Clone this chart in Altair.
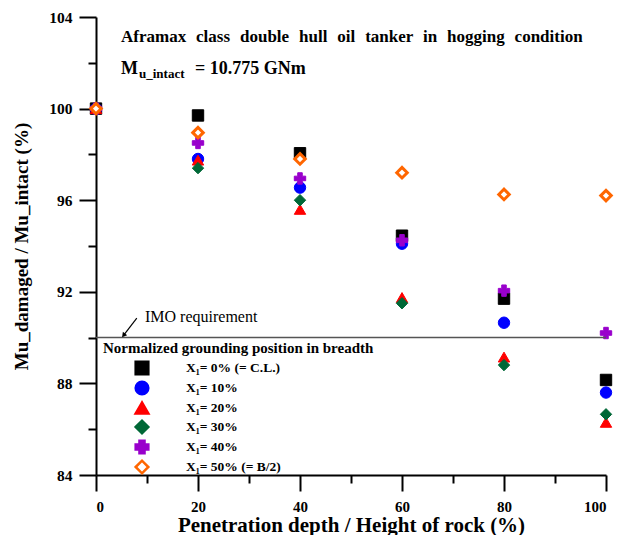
import altair as alt
import pandas as pd

depth = [0, 20, 40, 60, 80, 100]
series_labels = ["X₁= 0% (= C.L.)", "X₁= 10%", "X₁= 20%", "X₁= 30%", "X₁= 40%", "X₁= 50% (= B/2)"]
s0 = [100, 99.7, 98.05, 94.45, 91.7, 88.15]
s10 = [100, 97.8, 96.55, 94.1, 90.65, 87.6]
s20 = [100, 97.75, 95.6, 91.75, 89.15, 86.3]
s30 = [100, 97.4, 96.0, 91.5, 88.8, 86.65]
s40 = [100, 98.5, 96.95, 94.25, 92.05, 90.2]
s50 = [100, 98.95, 97.8, 97.2, 96.25, 96.2]
all_series = [s0, s10, s20, s30, s40, s50]

shapes = ["square", "circle", "triangle-up", "diamond", "cross", "diamond"]
fills = ["#000000", "#0000ff", "#ff0000", "#006837", "#9900cc", "#ffffff"]
strokes = ["#000000", "#0000ff", "#ff0000", "#006837", "#9900cc", "#ff6600"]
open_series = "X₁= 50% (= B/2)"

imo_value = 90
arrow_tail = (8.0, 90.85)
arrow_head = (5.4, 90.1)

rows = []
for lab, vals in zip(series_labels, all_series):
    for d, v in zip(depth, vals):
        rows.append({"depth": d, "ratio": v, "series": lab, "open": lab == open_series})
df = pd.DataFrame(rows)

SERIF = "Liberation Serif"
SP = " \u2004"

xscale = alt.Scale(domain=[0, 100], nice=False)
yscale = alt.Scale(domain=[84, 104], nice=False)

xaxis = alt.Axis(
    values=list(range(0, 101, 10)),
    labelExpr="datum.value % 20 == 0 ? datum.label : ''",
    tickSize={"condition": {"test": "datum.value % 20 == 0", "value": 16}, "value": 8},
    labelPadding=8,
    title="Penetration depth / Height of rock (%)",
    titleFont=SERIF, titleFontSize=21, titleFontWeight="bold", titlePadding=0,
    labelFont=SERIF, labelFontSize=15, labelFontWeight="bold", labelColor="black",
    domainColor="black", domainWidth=2, tickColor="black", tickWidth=2,
    grid=False, titleColor="black",
)
yaxis = alt.Axis(
    values=list(range(84, 105, 2)),
    labelExpr="datum.value % 4 == 0 ? datum.label : ''",
    tickSize={"condition": {"test": "datum.value % 4 == 0", "value": 17}, "value": 8},
    labelPadding=7,
    title="Mu_damaged / Mu_intact (%)",
    titleFont=SERIF, titleFontSize=19, titleFontWeight="bold", titlePadding=17,
    labelFont=SERIF, labelFontSize=15.5, labelFontWeight="bold", labelColor="black",
    domainColor="black", domainWidth=2, tickColor="black", tickWidth=2,
    grid=False, titleColor="black",
)

legend = alt.Legend(
    orient="none", legendX=7, legendY=324,
    title="Normalized grounding position in breadth",
    titleFont=SERIF, titleFontSize=15, titleFontWeight="bold", titleColor="black",
    titlePadding=4, titleLimit=400,
    labelFont=SERIF, labelFontSize=13.5, labelFontWeight="bold", labelColor="black",
    symbolOffset=31, labelOffset=36, symbolSize=160, symbolStrokeWidth=2.5, rowPadding=-5,
)

enc = dict(
    x=alt.X("depth:Q", scale=xscale, axis=xaxis),
    y=alt.Y("ratio:Q", scale=yscale, axis=yaxis),
    shape=alt.Shape("series:N", scale=alt.Scale(domain=series_labels, range=shapes), legend=legend),
    fill=alt.Fill("series:N", scale=alt.Scale(domain=series_labels, range=fills), legend=legend),
    stroke=alt.Stroke("series:N", scale=alt.Scale(domain=series_labels, range=strokes), legend=legend),
)

solid_pts = alt.Chart(df).transform_filter("!datum.open").mark_point(
    size=130, opacity=1, filled=False, strokeWidth=1
).encode(**enc)
open_pts = alt.Chart(df).transform_filter("datum.open").mark_point(
    size=110, opacity=1, filled=False, strokeWidth=3
).encode(**enc)

imo_df = pd.DataFrame({"x": [0], "x2": [100], "y": [imo_value]})
imo_line = alt.Chart(imo_df).mark_rule(color="#555555", strokeWidth=1.5).encode(
    x=alt.X("x:Q", scale=xscale), x2="x2:Q", y=alt.Y("y:Q", scale=yscale)
)

arrow_df = pd.DataFrame({"x": [arrow_tail[0]], "y": [arrow_tail[1]], "x2": [arrow_head[0]], "y2": [arrow_head[1]]})
arrow_line = alt.Chart(arrow_df).mark_rule(color="black", strokeWidth=1.2).encode(
    x=alt.X("x:Q", scale=xscale), y=alt.Y("y:Q", scale=yscale), x2="x2:Q", y2="y2:Q"
)
head_df = pd.DataFrame({"x": [arrow_head[0]], "y": [arrow_head[1]]})
arrow_head_mark = alt.Chart(head_df).mark_point(shape="triangle-up", filled=True, color="black", size=30, angle=219, opacity=1).encode(
    x=alt.X("x:Q", scale=xscale), y=alt.Y("y:Q", scale=yscale)
)

imo_text = alt.Chart(pd.DataFrame({"t": ["IMO requirement"]})).mark_text(
    font=SERIF, fontSize=16, align="left", baseline="alphabetic", color="black"
).encode(text="t:N", x=alt.value(49), y=alt.value(305))

title_words = ["Aframax", "class", "double", "hull", "oil", "tanker", "in", "hogging", "condition"]
title1 = alt.Chart(pd.DataFrame({"t": [SP.join(title_words)]})).mark_text(
    font=SERIF, fontSize=17, fontWeight="bold", align="left", baseline="alphabetic", color="black"
).encode(text="t:N", x=alt.value(25), y=alt.value(24.5))

m_text = alt.Chart(pd.DataFrame({"t": ["M"]})).mark_text(
    font=SERIF, fontSize=18, fontWeight="bold", align="left", baseline="alphabetic", color="black"
).encode(text="t:N", x=alt.value(25), y=alt.value(57))
sub_text = alt.Chart(pd.DataFrame({"t": ["u_intact"]})).mark_text(
    font=SERIF, fontSize=13, fontWeight="bold", align="left", baseline="alphabetic", color="black"
).encode(text="t:N", x=alt.value(43), y=alt.value(61))
val_text = alt.Chart(pd.DataFrame({"t": ["= 10.775 GNm"]})).mark_text(
    font=SERIF, fontSize=18, fontWeight="bold", align="left", baseline="alphabetic", color="black"
).encode(text="t:N", x=alt.value(99), y=alt.value(57))

chart = alt.layer(
    solid_pts, imo_line, arrow_line, arrow_head_mark, imo_text, title1, m_text, sub_text, val_text, open_pts
).properties(
    width=510, height=458,
    autosize=alt.AutoSizeParams(type="none"),
    padding={"left": 96, "top": 17, "right": 21, "bottom": 60},
    background="white",
).configure_view(stroke=None)

chart.save("out.html", embed_options={"renderer": "svg", "actions": False})
